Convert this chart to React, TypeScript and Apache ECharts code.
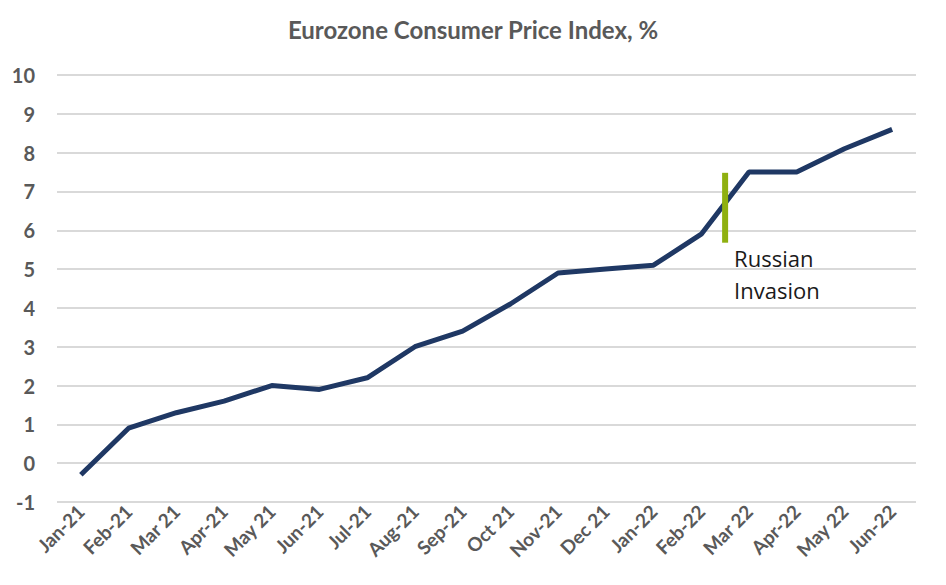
import React, { useEffect, useRef } from "react";
import * as echarts from "echarts";

const categories = ["Jan-21", "Feb-21", "Mar 21", "Apr-21", "May 21", "Jun-21", "Jul-21", "Aug-21", "Sep-21", "Oct 21", "Nov-21", "Dec 21", "Jan-22", "Feb-22", "Mar 22", "Apr-22", "May 22", "Jun-22"];
const cpiValues = [-0.3, 0.9, 1.3, 1.6, 2.0, 1.9, 2.2, 3.0, 3.4, 4.1, 4.9, 5.0, 5.1, 5.9, 7.5, 7.5, 8.1, 8.6];
const invasionMarker: [number, number][] = [[13.5, 5.68], [13.5, 7.48]];
const invasionLabel = "Russian\nInvasion";
const yMin = -1;
const yMax = 10;

export default function App() {
  const ref = useRef<HTMLDivElement>(null);
  useEffect(() => {
    if (!ref.current) return;
    const chart = echarts.init(ref.current, undefined, { renderer: "svg" });
    chart.setOption({
      animation: false,
      backgroundColor: "#ffffff",
      title: {
        text: "Eurozone Consumer Price Index, %",
        left: "center",
        top: 12,
        textStyle: { fontFamily: "Lato", fontWeight: "bold", fontSize: 24, color: "#595959" },
      },
      grid: { left: 57, right: 30, top: 75, bottom: 83 },
      xAxis: [
        {
          type: "category",
          data: categories,
          boundaryGap: true,
          axisLine: { show: false },
          axisTick: { show: false },
          axisLabel: {
            rotate: 45,
            interval: 0,
            margin: 6,
            fontFamily: "Lato",
            fontWeight: "bold",
            fontSize: 19,
            color: "#595959",
          },
        },
        {
          type: "value",
          min: -0.5,
          max: 17.5,
          show: false,
        },
      ],
      yAxis: {
        type: "value",
        min: yMin,
        max: yMax,
        interval: 1,
        axisLine: { show: false },
        axisTick: { show: false },
        splitLine: { lineStyle: { color: "#d9d9d9", width: 2 } },
        axisLabel: { margin: 22, fontFamily: "Lato", fontWeight: "bold", fontSize: 20, color: "#595959" },
      },
      series: [
        {
          type: "line",
          data: cpiValues,
          xAxisIndex: 0,
          symbol: "none",
          lineStyle: { color: "#1f3864", width: 5 },
        },
        {
          type: "line",
          xAxisIndex: 1,
          data: [
            {
              value: invasionMarker[0],
              label: {
                show: true,
                formatter: invasionLabel,
                position: [9, -1],
                align: "left",
                verticalAlign: "top",
                fontFamily: "Open Sans",
                fontSize: 22,
                lineHeight: 32,
                color: "#1a1a1a",
              },
            },
            { value: invasionMarker[1] },
          ],
          symbol: "circle",
          symbolSize: 0,
          lineStyle: { color: "#8fb010", width: 6, cap: "butt" },
        },
      ],
    });
    return () => chart.dispose();
  }, []);
  return <div ref={ref} style={{ position: "absolute", left: 0, top: 0, width: 946, height: 585 }} />;
}
